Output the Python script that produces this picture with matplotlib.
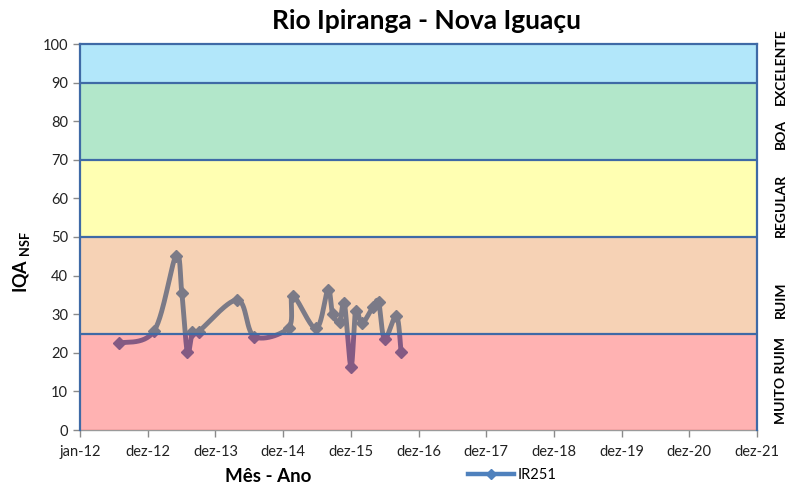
import numpy as np
import pandas as pd
import matplotlib
matplotlib.use("Agg")
import matplotlib.pyplot as plt
import matplotlib.dates as mdates
from matplotlib.lines import Line2D

plt.rcParams['font.family'] = ['Lato', 'DejaVu Sans']
plt.rcParams['mathtext.fontset'] = 'custom'
plt.rcParams['mathtext.rm'] = 'Lato'
plt.rcParams['mathtext.bf'] = 'Lato:bold'

# ---------------- data ----------------
dates = ["2012-07-29", "2013-02-04", "2013-06-02", "2013-07-03", "2013-08-02",
         "2013-08-29", "2013-10-01", "2014-04-29", "2014-07-29", "2015-01-30",
         "2015-02-22", "2015-06-27", "2015-08-30", "2015-09-24", "2015-11-01",
         "2015-11-26", "2016-01-01", "2016-01-26", "2016-02-29", "2016-04-29",
         "2016-05-29", "2016-06-30", "2016-09-02", "2016-09-27"]
iqa = [22.5, 25.7, 45.2, 35.4, 20.1, 25.3, 25.5, 33.7, 24.2, 26.5,
       34.7, 26.3, 36.3, 30.0, 28.1, 33.0, 16.4, 30.9, 27.6, 31.9,
       33.1, 23.6, 29.6, 20.1]
series_name = "IR251"

tick_labels = ["jan-12", "dez-12", "dez-13", "dez-14", "dez-15", "dez-16",
               "dez-17", "dez-18", "dez-19", "dez-20", "dez-21"]
axis_start = "2012-01-01"
tick_step_days = 365

band_bounds = [0, 25, 50, 70, 90, 100]
band_names = ["MUITO RUIM", "RUIM", "REGULAR", "BOA", "EXCELENTE"]
band_colors = ["#FF0000", "#E46C0A", "#FFFF00", "#00B050", "#00B0F0"]

# ---------------- figure ----------------
W, H = 790, 487
fig = plt.figure(figsize=(W / 100, H / 100), dpi=100)
ax_l, ax_r, ax_t, ax_b = 80, 757, 44, 430
ax = fig.add_axes([ax_l / W, 1 - ax_b / H, (ax_r - ax_l) / W, (ax_b - ax_t) / H])

x0 = mdates.date2num(pd.Timestamp(axis_start))
xt = [x0 + tick_step_days * i for i in range(len(tick_labels))]
ax.set_xlim(xt[0], xt[-1])
ax.set_ylim(band_bounds[0], band_bounds[-1])

xd = mdates.date2num(pd.to_datetime(dates))
yv = np.array(iqa, dtype=float)

# smooth curve (Catmull-Rom style bezier in pixel-like space)
sx = (ax_r - ax_l) / (xt[-1] - xt[0])
sy = (ax_b - ax_t) / (band_bounds[-1] - band_bounds[0])
P = np.column_stack([xd * sx, yv * sy])
n = len(P)
curve = []
t = np.linspace(0, 1, 30)
for i in range(n - 1):
    p0 = P[i - 1] if i > 0 else P[i]
    p1 = P[i]
    p2 = P[i + 1]
    p3 = P[i + 2] if i + 2 < n else P[i + 1]
    c1 = p1 + (p2 - p0) / 6.0
    c2 = p2 - (p3 - p1) / 6.0
    seg = ((1 - t) ** 3)[:, None] * p1 + (3 * (1 - t) ** 2 * t)[:, None] * c1 \
        + (3 * (1 - t) * t ** 2)[:, None] * c2 + (t ** 3)[:, None] * p2
    curve.append(seg if i == 0 else seg[1:])
curve = np.vstack(curve)
line_color = "#4F81BD"
ax.plot(curve[:, 0] / sx, curve[:, 1] / sy, color=line_color, lw=3.5,
        solid_capstyle='round', zorder=2)
ax.plot(xd, yv, linestyle='none', marker='D', ms=6.5, color=line_color, zorder=2)

# translucent quality bands drawn over the line
for lo, hi, c in zip(band_bounds[:-1], band_bounds[1:], band_colors):
    ax.axhspan(lo, hi, color=c, alpha=0.3, lw=0, zorder=3)
edge = "#3F6AA6"
for b in band_bounds[1:-1]:
    ax.axhline(b, color=edge, lw=1.6, zorder=4)

for side in ['top', 'right', 'left']:
    ax.spines[side].set_color(edge)
    ax.spines[side].set_linewidth(1.6)
    ax.spines[side].set_zorder(5)
ax.spines['bottom'].set_color('#9a9a9a')
ax.spines['bottom'].set_linewidth(1.0)

ax.set_xticks(xt)
ax.set_xticklabels(tick_labels)
ax.set_yticks(range(0, 101, 10))
ax.tick_params(axis='both', direction='out', length=5, color='#8a8a8a',
               labelsize=10.5, labelcolor='#222222', width=1)
ax.tick_params(axis='x', pad=6)

fig.text(426 / W, 1 - 21 / H, "Rio Ipiranga - Nova Iguaçu", ha='center', va='center',
         fontsize=19, fontweight='bold')
fig.text(268 / W, 1 - 477 / H, "Mês - Ano", ha='center', va='center',
         fontsize=13.5, fontweight='bold')
fig.text(22 / W, 1 - 262 / H, r"IQA $_{\mathbf{NSF}}$", ha='center', va='center',
         rotation=90, fontsize=13, fontweight='bold')

label_y = [380, 300, 205, 134, 67]
for name, yy in zip(band_names, label_y):
    fig.text(781 / W, 1 - yy / H, name, ha='center', va='center', rotation=90,
             fontsize=10, fontweight='bold')

handle = Line2D([], [], color=line_color, lw=3.2, marker='D', ms=5)
fig.legend([handle], [series_name], loc='center', bbox_to_anchor=(512 / W, 1 - 475 / H),
           frameon=False, fontsize=10.5, handlelength=3.2, handletextpad=0.2,
           borderaxespad=0)

fig.savefig("out.png", dpi=100)
